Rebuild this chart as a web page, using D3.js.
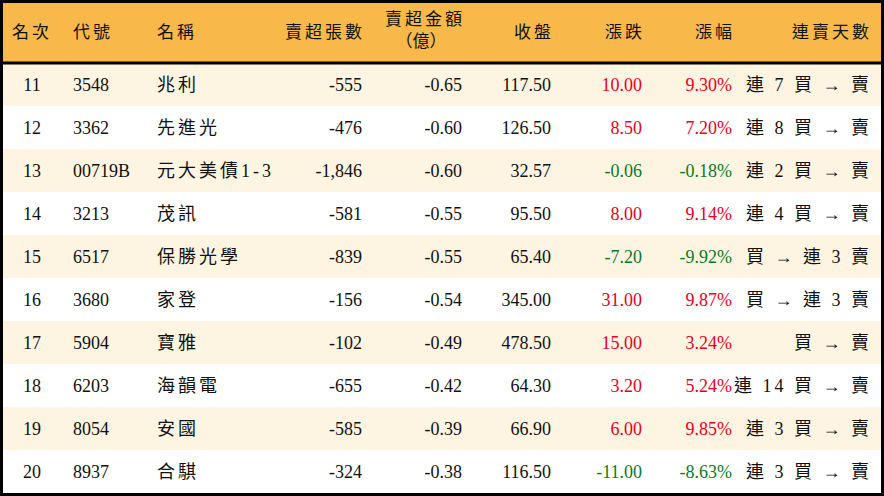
<!DOCTYPE html>
<html><head><meta charset="utf-8">
<script src="https://cdn.jsdelivr.net/npm/d3@7"></script>
<style>body{margin:0;background:#fff}</style>
</head><body><div id="container"></div>
<script>
const ranks = [11, 12, 13, 14, 15, 16, 17, 18, 19, 20];
const codes = ["3548", "3362", "00719B", "3213", "6517", "3680", "5904", "6203", "8054", "8937"];
const names = ["兆利", "先進光", "元大美債1-3", "茂訊", "保勝光學", "家登", "寶雅", "海韻電", "安國", "合騏"];
const lots = [-555, -476, -1846, -581, -839, -156, -102, -655, -585, -324];
const amounts = [-0.65, -0.6, -0.6, -0.55, -0.55, -0.54, -0.49, -0.42, -0.39, -0.38];
const closes = [117.5, 126.5, 32.57, 95.5, 65.4, 345, 478.5, 64.3, 66.9, 116.5];
const changes = [10, 8.5, -0.06, 8, -7.2, 31, 15, 3.2, 6, -11];
const pcts = [9.3, 7.2, -0.18, 9.14, -9.92, 9.87, 3.24, 5.24, 9.85, -8.63];
const streaks = ["連 7 買 → 賣", "連 8 買 → 賣", "連 2 買 → 賣", "連 4 買 → 賣", "買 → 連 3 賣", "買 → 連 3 賣", "買 → 賣", "連 14 買 → 賣", "連 3 買 → 賣", "連 3 買 → 賣"];
const headers = ["名次", "代號", "名稱", "賣超張數", "賣超金額", "收盤", "漲跌", "漲幅", "連賣天數"];

const w = 884, h = 496, headH = 63;
const font = "'Liberation Serif', 'Noto Sans CJK TC', serif";
const cols = [
  { x: 32, a: "middle" }, { x: 73, a: "start" }, { x: 157, a: "start" },
  { x: 362, a: "end" }, { x: 462, a: "end" }, { x: 551, a: "end" },
  { x: 642, a: "end" }, { x: 732, a: "end" }, { x: 869, a: "end" }
];
const fmt2 = (v) => d3.format(".2f")(v).replace("−", "-");
const rows = ranks.map((r, i) => [
  r, codes[i], names[i], d3.format(",")(lots[i]).replace("−", "-"), fmt2(amounts[i]), fmt2(closes[i]),
  fmt2(changes[i]), fmt2(pcts[i]) + "%", streaks[i]
]);

const y = d3.scaleBand().domain(d3.range(rows.length)).range([headH, h - 3]);
const svg = d3.select("#container").append("svg").attr("width", w).attr("height", h);

svg.append("rect").attr("width", w).attr("height", headH).attr("fill", "#f8b94a");
svg.selectAll("rect.row").data(rows).enter().append("rect").attr("class", "row")
  .attr("x", 0).attr("y", (d, i) => y(i)).attr("width", w).attr("height", y.bandwidth())
  .attr("fill", (d, i) => i % 2 === 0 ? "#fef4e2" : "#ffffff");

headers.forEach((t, j) => {
  const tx = svg.append("text").attr("x", cols[j].x + (cols[j].a === "end" ? 3 : 0))
    .attr("text-anchor", cols[j].a).attr("letter-spacing", 3)
    .attr("font-family", font).attr("font-size", 17).attr("fill", "#111");
  if (j === 4) {
    tx.attr("y", 25).text(t);
    svg.append("text").attr("x", 421).attr("y", 47).attr("text-anchor", "middle")
      .attr("font-family", font).attr("font-size", 17).attr("fill", "#111").text("（億）");
  } else tx.attr("y", 38).text(t);
});

rows.forEach((r, i) => {
  r.forEach((v, j) => {
    let color = "#111";
    if (j === 6 || j === 7) color = changes[i] > 0 ? "#e8001c" : "#0a7a1e";
    const cjk = j === 2 || j === 8;
    svg.append("text").attr("x", cols[j].x + (j === 8 ? 3 : 0)).attr("y", y(i) + y.bandwidth() / 2 + 6)
      .attr("text-anchor", cols[j].a).attr("font-family", font).attr("font-size", 18)
      .attr("letter-spacing", cjk ? 3 : 0)
      .attr("fill", color).text(v);
  });
});

svg.append("line").attr("x1", 0).attr("x2", w).attr("y1", headH).attr("y2", headH)
  .attr("stroke", "#000").attr("stroke-width", 3);
svg.append("rect").attr("x", 1.5).attr("y", 1.5).attr("width", w - 3).attr("height", h - 3)
  .attr("fill", "none").attr("stroke", "#000").attr("stroke-width", 3);
</script></body></html>
